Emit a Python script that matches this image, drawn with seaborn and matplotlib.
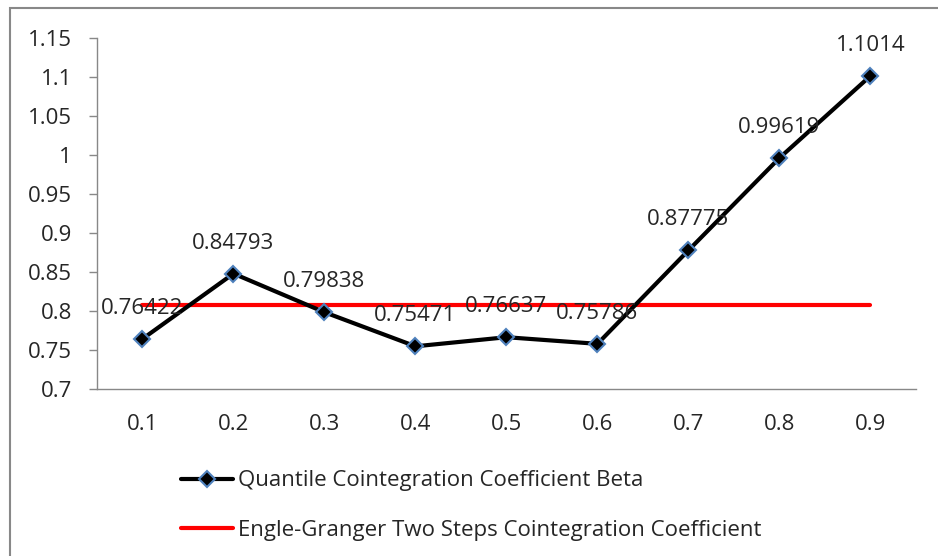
import numpy as np
import pandas as pd
import matplotlib.pyplot as plt
import matplotlib.patches as patches
from matplotlib.lines import Line2D
import seaborn as sns

# 데이터
quantiles = [0.1, 0.2, 0.3, 0.4, 0.5, 0.6, 0.7, 0.8, 0.9]
beta = [0.76422, 0.84793, 0.79838, 0.75471, 0.76637, 0.75786, 0.87775, 0.99619, 1.1014]
eg_coef = 0.808
beta_labels = ['0.76422', '0.84793', '0.79838', '0.75471', '0.76637', '0.75786', '0.87775', '0.99619', '1.1014']
yticks = [0.7, 0.75, 0.8, 0.85, 0.9, 0.95, 1, 1.05, 1.1, 1.15]
ytick_labels = ['0.7', '0.75', '0.8', '0.85', '0.9', '0.95', '1', '1.05', '1.1', '1.15']

df = pd.DataFrame({'q': quantiles, 'beta': beta, 'eg': [eg_coef] * len(quantiles)})

sns.set_style('white')
plt.rcParams['font.family'] = ['Open Sans', 'DejaVu Sans']
fs = 16

fig = plt.figure(figsize=(9.38, 5.56), dpi=100)
ax = fig.add_axes([0.1034, 0.3004, 0.8731, 0.6313])

sns.lineplot(data=df, x='q', y='eg', ax=ax, color='#FF0000', linewidth=3)
sns.lineplot(data=df, x='q', y='beta', ax=ax, color='black', linewidth=3,
             marker='D', markersize=8, markerfacecolor='black',
             markeredgecolor='#4F81BD', markeredgewidth=1.5)

for x, y, t in zip(quantiles, beta, beta_labels):
    ax.annotate(t, (x, y), xytext=(0, 22), textcoords='offset points',
                ha='center', va='center', fontsize=fs)

ax.set_xlim(0.05, 0.95)
ax.set_ylim(0.7, 1.15)
ax.set_xticks(quantiles)
ax.set_xticklabels([str(q) for q in quantiles], fontsize=fs)
ax.set_xticks(np.arange(0.05, 0.96, 0.1), minor=True)
ax.tick_params(axis='x', which='major', length=0, pad=18)
ax.tick_params(axis='x', which='minor', length=6, width=1, color='#888888', direction='out')
ax.set_yticks(yticks)
ax.set_yticklabels(ytick_labels, fontsize=fs)
ax.tick_params(axis='y', length=6, width=1, color='#888888', direction='out', left=True, pad=12)
ax.set_xlabel('')
ax.set_ylabel('')
for s in ['top', 'right']:
    ax.spines[s].set_visible(False)
for s in ['left', 'bottom']:
    ax.spines[s].set_color('#888888')
    ax.spines[s].set_linewidth(1)
if ax.get_legend():
    ax.get_legend().remove()

# 범례
h1 = Line2D([], [], color='black', linewidth=3, marker='D', markersize=8,
            markerfacecolor='black', markeredgecolor='#4F81BD', markeredgewidth=1.5)
h2 = Line2D([], [], color='#FF0000', linewidth=3)
fig.legend([h1, h2], ['Quantile Cointegration Coefficient Beta',
                      'Engle-Granger Two Steps Cointegration Coefficient'],
           loc='upper left', bbox_to_anchor=(0.184, 0.17),
           frameon=False, fontsize=fs, handlelength=2.3, handletextpad=0.25,
           labelspacing=1.3, borderaxespad=0)

# 바깥 테두리
rect = patches.Rectangle((10 / 938, -0.1), 1.2, 1 - 8 / 556 + 0.1, transform=fig.transFigure,
                         fill=False, edgecolor='#888888', linewidth=1.5)
fig.patches.append(rect)

fig.savefig('out.png', dpi=100)
